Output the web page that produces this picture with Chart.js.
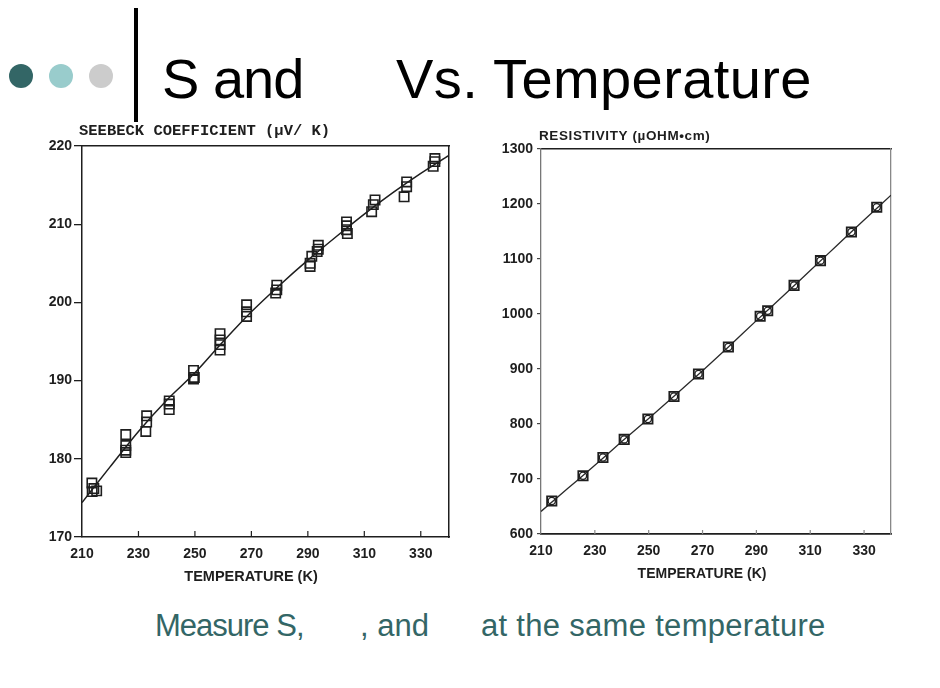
<!DOCTYPE html>
<html>
<head>
<meta charset="utf-8">
<script src="https://cdn.jsdelivr.net/npm/chart.js@4.4.1/dist/chart.umd.min.js"></script>
<style>
  body { margin: 0; background: #fff; }
  #slide { position: relative; width: 940px; height: 688px; overflow: hidden; font-family: "Liberation Sans", Arial, sans-serif; }
  .dot { position: absolute; width: 24px; height: 24px; border-radius: 50%; top: 64px; }
  .bar { position: absolute; left: 134px; top: 8px; width: 4px; height: 114px; background: #000; }
  .title { position: absolute; top: 51px; font-size: 56px; line-height: 56px; color: #000; white-space: nowrap; }
  .caption { position: absolute; top: 610px; font-size: 31px; line-height: 31px; color: #336666; white-space: nowrap; }
  canvas { position: absolute; }
</style>
</head>
<body>
<div id="slide">
  <div class="dot" style="left:9px;background:#336666"></div>
  <div class="dot" style="left:49px;background:#99cccc"></div>
  <div class="dot" style="left:89px;background:#cccccc"></div>
  <div class="bar"></div>
  <div class="title" style="left:162px;letter-spacing:-1px">S and</div>
  <div class="title" style="left:396px;letter-spacing:0.4px">Vs. Temperature</div>

  <canvas id="seebeck" width="420" height="490" style="left:40px;top:110px"></canvas>
  <canvas id="resist" width="430" height="490" style="left:480px;top:110px"></canvas>

  <div class="caption" style="left:155px;letter-spacing:-1px">Measure S,</div>
  <div class="caption" style="left:360px">, and</div>
  <div class="caption" style="left:481px;letter-spacing:0.3px">at the same temperature</div>
</div>

<script>
// tick labels
const tempTicks = [210, 230, 250, 270, 290, 310, 330];
const seebeckTicks = [170, 180, 190, 200, 210, 220];
const rhoTicks = [600, 700, 800, 900, 1000, 1100, 1200, 1300];

// Seebeck coefficient measurements (K, uV/K)
const seebeckT = [213.5, 213.6, 215.2, 214.2,
  225.5, 225.5, 225.5, 225.5,
  232.9, 232.9, 232.6,
  240.9, 240.9, 240.9,
  249.5, 249.5, 249.8,
  258.9, 258.9, 258.9, 258.9,
  268.3, 268.3, 268.3,
  279.0, 279.0, 278.6,
  290.8, 290.8, 291.4,
  293.7, 293.7, 293.3,
  303.7, 303.7, 304.0, 303.7,
  313.8, 313.2, 312.6,
  325.0, 325.0, 324.1,
  335.0, 335.0, 334.4];
const seebeckS = [176.9, 175.8, 175.9, 176.2,
  183.1, 181.7, 181.1, 180.8,
  185.5, 184.7, 183.5,
  187.4, 186.3, 187.0,
  191.3, 190.2, 190.4,
  196.0, 195.2, 194.6, 193.9,
  199.7, 198.8, 198.2,
  202.2, 201.6, 201.2,
  205.0, 204.6, 205.9,
  207.3, 206.8, 206.5,
  210.3, 209.3, 208.8, 209.8,
  213.1, 212.5, 211.6,
  215.4, 214.8, 213.5,
  218.4, 218.0, 217.4];
// fitted curve
const seebeckFitT = [210, 220, 230, 240, 250, 260, 270, 280, 290, 300, 310, 320, 330, 340];
const seebeckFitS = [174.4, 179.0, 183.5, 187.5, 191.0, 195.0, 198.8, 202.2, 205.4, 208.4, 211.3, 214.0, 216.5, 218.8];

// resistivity measurements (K, uOhm cm)
const rhoT = [214.0, 225.6, 233.0, 240.9, 249.7, 259.4, 268.5, 279.6, 291.4, 294.2, 304.0, 313.8, 325.3, 334.7];
const rhoVals = [660, 706, 739, 772, 809, 850, 891, 940, 996, 1006, 1052, 1097, 1149, 1194];
const rhoFitT = [210, 220, 230, 240, 250, 260, 270, 280, 290, 300, 310, 320, 330, 340];
const rhoFitVals = [641, 683, 725, 768, 810, 853, 897, 942, 988, 1033, 1079, 1125, 1171, 1216];

const ink = '#1e1e1e';
Chart.defaults.font.family = '"Liberation Sans", Arial, sans-serif';
Chart.defaults.color = ink;

function pts(xs, ys) {
  return xs.map((x, i) => ({ x: x, y: ys[i] }));
}
function setTicks(list) {
  return axis => { axis.ticks = list.map(v => ({ value: v })); };
}
function fixSize(prop, v) {
  return s => { s[prop] = v; };
}
const plain = v => String(v);

// small upward ticks on the bottom axis, text labels
const extras = {
  id: 'extras',
  afterDraw(chart, args, opts) {
    const ctx = chart.ctx;
    const x = chart.scales.x;
    const b = chart.chartArea.bottom;
    ctx.save();
    ctx.strokeStyle = opts.tickColor;
    ctx.lineWidth = 1.2;
    x.ticks.forEach(t => {
      if (t.value === x.min) return;
      const px = x.getPixelForValue(t.value);
      ctx.beginPath();
      ctx.moveTo(px, b);
      ctx.lineTo(px, b - opts.tickLen);
      ctx.stroke();
    });
    ctx.restore();
    opts.texts.forEach(t => {
      ctx.save();
      ctx.font = t.font;
      ctx.fillStyle = ink;
      ctx.textAlign = t.align;
      ctx.textBaseline = 'alphabetic';
      if ('letterSpacing' in ctx) ctx.letterSpacing = t.spacing || '0px';
      ctx.fillText(t.text, t.x, t.y);
      ctx.restore();
    });
  }
};

const tickFont = { size: 14, weight: 'bold' };

new Chart(document.getElementById('seebeck'), {
  type: 'scatter',
  data: {
    datasets: [{
      data: pts(seebeckT, seebeckS),
      pointStyle: 'rect',
      pointRadius: 6.6,
      borderColor: ink,
      borderWidth: 1.6,
      backgroundColor: 'rgba(0,0,0,0)'
    }, {
      data: pts(seebeckFitT, seebeckFitS),
      showLine: true,
      pointRadius: 0,
      borderColor: ink,
      borderWidth: 1.5,
      cubicInterpolationMode: 'monotone'
    }]
  },
  options: {
    responsive: false,
    animation: false,
    layout: { padding: 0 },
    plugins: {
      legend: { display: false },
      tooltip: { enabled: false },
      extras: {
        tickColor: ink, tickLen: 6,
        texts: [
          { text: 'SEEBECK COEFFICIENT (µV/ K)', x: 39, y: 25, align: 'left', font: 'bold 15.5px "Liberation Mono", monospace' },
          { text: 'TEMPERATURE (K)', x: 211, y: 471, align: 'center', font: 'bold 14.5px "Liberation Sans", Arial, sans-serif' }
        ]
      }
    },
    scales: {
      x: {
        min: 210, max: 340,
        afterBuildTicks: setTicks(tempTicks),
        afterFit: fixSize('height', 63),
        grid: { drawOnChartArea: false, drawTicks: false },
        border: { color: ink, width: 1.5 },
        ticks: { font: tickFont, padding: 9, maxRotation: 0, callback: plain }
      },
      x2: {
        position: 'top', min: 210, max: 340,
        afterFit: fixSize('height', 36),
        grid: { drawOnChartArea: false, drawTicks: false },
        border: { color: ink, width: 1.5 },
        ticks: { display: false }
      },
      y: {
        min: 170, max: 220,
        afterBuildTicks: setTicks(seebeckTicks),
        afterFit: fixSize('width', 42),
        grid: { drawOnChartArea: false, tickLength: 8, color: ink, lineWidth: 1.3 },
        border: { color: ink, width: 1.5 },
        ticks: { font: tickFont, padding: 2, callback: plain }
      },
      y2: {
        position: 'right', min: 170, max: 220,
        afterFit: fixSize('width', 11),
        grid: { drawOnChartArea: false, drawTicks: false },
        border: { color: ink, width: 1.5 },
        ticks: { display: false }
      }
    }
  },
  plugins: [extras]
});

new Chart(document.getElementById('resist'), {
  type: 'scatter',
  data: {
    datasets: [{
      data: pts(rhoT, rhoVals),
      pointStyle: 'rect',
      pointRadius: 6.6,
      borderColor: ink,
      borderWidth: 1.8,
      backgroundColor: 'rgba(0,0,0,0)'
    }, {
      data: pts(rhoT, rhoVals),
      pointStyle: 'circle',
      pointRadius: 3.6,
      borderColor: ink,
      borderWidth: 1.3,
      backgroundColor: 'rgba(0,0,0,0)'
    }, {
      data: pts(rhoFitT, rhoFitVals),
      showLine: true,
      pointRadius: 0,
      borderColor: '#2a2a2a',
      borderWidth: 1.3,
      cubicInterpolationMode: 'monotone'
    }]
  },
  options: {
    responsive: false,
    animation: false,
    layout: { padding: 0 },
    plugins: {
      legend: { display: false },
      tooltip: { enabled: false },
      extras: {
        tickColor: '#888', tickLen: 4,
        texts: [
          { text: 'RESISTIVITY (µOHM•cm)', x: 59, y: 30, align: 'left', spacing: '0.6px', font: 'bold 13.5px "Liberation Sans", Arial, sans-serif' },
          { text: 'TEMPERATURE (K)', x: 222, y: 468, align: 'center', font: 'bold 14px "Liberation Sans", Arial, sans-serif' }
        ]
      }
    },
    scales: {
      x: {
        min: 210, max: 340,
        afterBuildTicks: setTicks(tempTicks),
        afterFit: fixSize('height', 66),
        grid: { drawOnChartArea: false, drawTicks: false },
        border: { color: ink, width: 1.8 },
        ticks: { font: tickFont, padding: 9, maxRotation: 0, callback: plain }
      },
      x2: {
        position: 'top', min: 210, max: 340,
        afterFit: fixSize('height', 39),
        grid: { drawOnChartArea: false, drawTicks: false },
        border: { color: ink, width: 1.5 },
        ticks: { display: false }
      },
      y: {
        min: 600, max: 1300,
        afterBuildTicks: setTicks(rhoTicks),
        afterFit: fixSize('width', 61),
        grid: { drawOnChartArea: false, tickLength: 4, color: '#444', lineWidth: 1.2 },
        border: { color: '#777', width: 1.3, dash: [1, 3] },
        ticks: { font: tickFont, padding: 4, callback: plain }
      },
      y2: {
        position: 'right', min: 600, max: 1300,
        afterFit: fixSize('width', 19),
        grid: { drawOnChartArea: false, drawTicks: false },
        border: { color: '#888', width: 1.3, dash: [1, 3] },
        ticks: { display: false }
      }
    }
  },
  plugins: [extras]
});
</script>
</body>
</html>
